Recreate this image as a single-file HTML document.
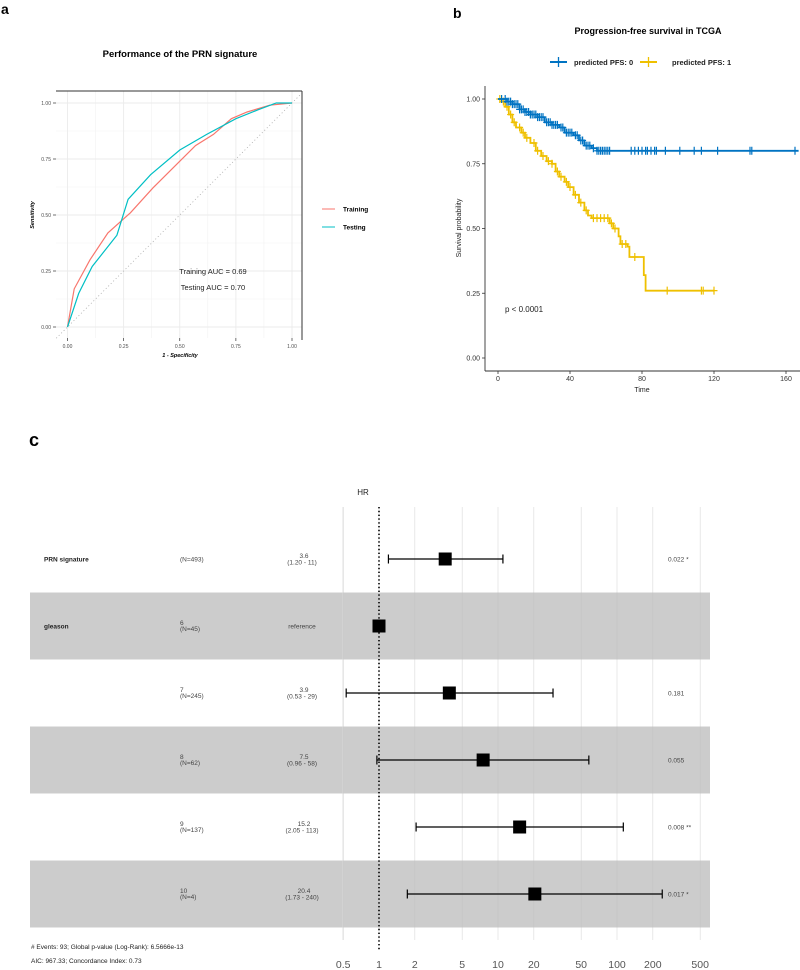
<!DOCTYPE html>
<html><head><meta charset="utf-8">
<style>
body{margin:0;background:#fff;}
svg{display:block;font-family:"Liberation Sans",sans-serif;}
</style></head>
<body>
<svg id="fig" width="800" height="970" viewBox="0 0 800 970">
<rect width="800" height="970" fill="#fff"/>
<text x="1" y="14" font-size="14" font-weight="bold">a</text>
<text x="453" y="18" font-size="14" font-weight="bold">b</text>
<text x="29" y="446" font-size="18" font-weight="bold">c</text>
<g id="roc"></g>
<g id="km"></g>
<g id="forest"></g>
</svg>
<script>
// ROC data
const rocTrainX=[0,0.03,0.1,0.18,0.28,0.38,0.5,0.57,0.65,0.73,0.8,0.9,1];
const rocTrainY=[0,0.17,0.3,0.42,0.51,0.62,0.74,0.81,0.86,0.93,0.96,0.99,1];
const rocTestX=[0,0.05,0.11,0.22,0.27,0.37,0.5,0.62,0.75,0.85,0.93,1];
const rocTestY=[0,0.15,0.27,0.41,0.57,0.68,0.79,0.86,0.93,0.97,1.0,1];
const rocTicks=[0,0.25,0.5,0.75,1];
const rocTickLabels=["0.00","0.25","0.50","0.75","1.00"];
// KM data
const kmBlueT=[0,3,5,8,12,15,18,22,26,30,34,37,42,45,48,52,55,167];
const kmBlueS=[1,1,0.99,0.98,0.96,0.95,0.94,0.93,0.91,0.90,0.89,0.87,0.86,0.84,0.82,0.81,0.80,0.80];
const kmBlueCens=[2,4,5,6,7,8,9,10,11,12,13,14,15,16,17,18,19,20,21,22,23,24,25,27,28,29,30,31,32,33,35,36,38,39,40,41,43,44,46,47,49,50,51,53,55,56,57,58,59,60,61,62,74,76,78,80,82,83,85,87,88,93,101,109,113,122,140,141,165];
const kmYelT=[0,2,4,6,8,10,13,15,18,21,24,27,30,32,34,37,39,42,45,48,50,52,62,64,67,68,72,73,81,82,120];
const kmYelS=[1,0.99,0.97,0.94,0.91,0.89,0.87,0.85,0.83,0.80,0.78,0.76,0.75,0.72,0.70,0.68,0.66,0.63,0.60,0.57,0.55,0.54,0.52,0.50,0.47,0.44,0.43,0.39,0.32,0.26,0.26];
const kmYelCens=[1,3,5,7,9,12,14,16,20,22,25,28,30,33,35,38,40,43,46,49,53,55,57,59,61,63,65,69,71,76,94,113,114,120];
const kmXTicks=[0,40,80,120,160];
const kmYTicks=[0,0.25,0.5,0.75,1];
const kmYTickLabels=["0.00","0.25","0.50","0.75","1.00"];
// Forest data
const fNames=["PRN signature","gleason","","","",""];
const fLevels=["","6","7","8","9","10"];
const fN=["(N=493)","(N=45)","(N=245)","(N=62)","(N=137)","(N=4)"];
const fHR=[3.6,1,3.9,7.5,15.2,20.4];
const fLo=[1.20,null,0.53,0.96,2.05,1.73];
const fHi=[11,null,29,58,113,240];
const fHRText=["3.6","reference","3.9","7.5","15.2","20.4"];
const fCIText=["(1.20 - 11)","","(0.53 - 29)","(0.96 - 58)","(2.05 - 113)","(1.73 - 240)"];
const fP=["0.022 *","","0.181","0.055","0.008 **","0.017 *"];
const fTicks=[0.5,1,2,5,10,20,50,100,200,500];
const fTickLabels=["0.5","1","2","5","10","20","50","100","200","500"];

const NS="http://www.w3.org/2000/svg";
function mk(parent,tag,attrs,text){const e=document.createElementNS(NS,tag);for(const k in attrs)e.setAttribute(k,attrs[k]);if(text!==undefined)e.textContent=text;parent.appendChild(e);return e;}

// ---------- ROC ----------
(function(){
const g=document.getElementById('roc');
const X=v=>67.5+224.5*v, Y=v=>327-224*v;
let t=mk(g,'text',{x:180,y:57,'font-size':9.5,'font-weight':'bold','text-anchor':'middle'},'Performance of the PRN signature');

[0.125,0.375,0.625,0.875].forEach(v=>{mk(g,'line',{x1:X(v),x2:X(v),y1:91,y2:338,stroke:'#f2f2f2','stroke-width':0.6});mk(g,'line',{x1:56,x2:302,y1:Y(v),y2:Y(v),stroke:'#f2f2f2','stroke-width':0.6});});
rocTicks.forEach((v,i)=>{
 let l=mk(g,'line',{x1:X(v),x2:X(v),y1:91,y2:338,stroke:'#ebebeb','stroke-width':0.9});
 
 mk(g,'line',{x1:56,x2:302,y1:Y(v),y2:Y(v),stroke:'#ebebeb','stroke-width':0.9});
 mk(g,'line',{x1:X(v),x2:X(v),y1:338,y2:341,stroke:'#333','stroke-width':0.7});
 mk(g,'line',{x1:53,x2:56,y1:Y(v),y2:Y(v),stroke:'#333','stroke-width':0.7});
 let a=mk(g,'text',{x:X(v),y:348,'font-size':5,fill:'#4d4d4d','text-anchor':'middle'},rocTickLabels[i]);
 
 let b=mk(g,'text',{x:51,y:Y(v)+2,'font-size':5,fill:'#4d4d4d','text-anchor':'end'},rocTickLabels[i]);
 
});
mk(g,'line',{x1:X(-0.05),y1:Y(-0.05),x2:X(1.05),y2:Y(1.05),stroke:'#aaa','stroke-width':0.8,'stroke-dasharray':'1,2.5'});
mk(g,'line',{x1:56,x2:302,y1:91,y2:91,stroke:'#333','stroke-width':1});
mk(g,'line',{x1:302,x2:302,y1:91,y2:340,stroke:'#333','stroke-width':1});
function path(xs,ys){return xs.map((x,i)=>(i?'L':'M')+X(x).toFixed(1)+','+Y(ys[i]).toFixed(1)).join('');}
let p1=mk(g,'path',{d:path(rocTrainX,rocTrainY),fill:'none',stroke:'#F8766D','stroke-width':1.2});

let p2=mk(g,'path',{d:path(rocTestX,rocTestY),fill:'none',stroke:'#00BFC4','stroke-width':1.2});

let t1=mk(g,'text',{x:213,y:274,'font-size':7.5,'text-anchor':'middle',fill:'#222'},'Training AUC = 0.69');

let t2=mk(g,'text',{x:213,y:290,'font-size':7.5,'text-anchor':'middle',fill:'#222'},'Testing AUC = 0.70');

let xt=mk(g,'text',{x:180,y:357,'font-size':5.5,'font-weight':'bold','font-style':'italic','text-anchor':'middle'},'1 - Specificity');

let yt=mk(g,'text',{x:0,y:0,'font-size':5.5,'font-weight':'bold','font-style':'italic','text-anchor':'middle',transform:'translate(34,215) rotate(-90)'},'Sensitivity');

[['Training','#F8766D',209],['Testing','#00BFC4',227]].forEach(e=>{
 let lg=mk(g,'g',{});
 mk(lg,'line',{x1:322,x2:335,y1:e[2],y2:e[2],stroke:e[1],'stroke-width':1});
 mk(lg,'text',{x:343,y:e[2]+2.5,'font-size':6.5,'font-weight':'bold'},e[0]);
});
})();

// ---------- KM ----------
(function(){
const g=document.getElementById('km');
const X=v=>498+1.8*v, Y=v=>358-259*v;
let t=mk(g,'text',{x:648,y:34,'font-size':9,'font-weight':'bold','text-anchor':'middle'},'Progression-free survival in TCGA');

[['predicted PFS: 0','#0073C2',550,574],['predicted PFS: 1','#EFC000',640,672]].forEach(e=>{
 let lg=mk(g,'g',{});
 mk(lg,'line',{x1:e[2],x2:e[2]+17,y1:62,y2:62,stroke:e[1],'stroke-width':2});
 mk(lg,'line',{x1:e[2]+8.5,x2:e[2]+8.5,y1:57,y2:67,stroke:e[1],'stroke-width':1.3});
 mk(lg,'text',{x:e[3],y:65,'font-size':7.5,'font-weight':'bold',fill:'#222'},e[0]);
});
mk(g,'line',{x1:485,x2:485,y1:86,y2:371,stroke:'#333','stroke-width':0.9});
mk(g,'line',{x1:485,x2:800,y1:371,y2:371,stroke:'#333','stroke-width':0.9});
kmXTicks.forEach(v=>{
 mk(g,'line',{x1:X(v),x2:X(v),y1:371,y2:374,stroke:'#333','stroke-width':0.8});
 let a=mk(g,'text',{x:X(v),y:381,'font-size':7,fill:'#333','text-anchor':'middle'},String(v));
 
});
kmYTicks.forEach((v,i)=>{
 mk(g,'line',{x1:482,x2:485,y1:Y(v),y2:Y(v),stroke:'#333','stroke-width':0.8});
 let a=mk(g,'text',{x:480,y:Y(v)+2.5,'font-size':7,fill:'#333','text-anchor':'end'},kmYTickLabels[i]);
 
});
let xt=mk(g,'text',{x:642,y:392,'font-size':7,'text-anchor':'middle',fill:'#222'},'Time');

let yt=mk(g,'text',{x:0,y:0,'font-size':7,'text-anchor':'middle',fill:'#222',transform:'translate(461,228) rotate(-90)'},'Survival probability');

function step(ts,ss){let d='M'+X(ts[0])+','+Y(ss[0]);for(let i=1;i<ts.length;i++){d+='H'+X(ts[i]).toFixed(1)+'V'+Y(ss[i]).toFixed(1);}return d;}
function survAt(ts,ss,t){let s=ss[0];for(let i=0;i<ts.length;i++){if(ts[i]<=t)s=ss[i];}return s;}
function curve(ts,ss,cens,col,name){
 let p=mk(g,'path',{d:step(ts,ss),fill:'none',stroke:col,'stroke-width':1.8});
 
 cens.forEach(c=>{const y=Y(survAt(ts,ss,c));
  let m=mk(g,'path',{d:`M${X(c)-3.5},${y}H${X(c)+3.5}M${X(c)},${y-4}V${y+4}`,stroke:col,'stroke-width':1.2});
  });
}
curve(kmYelT,kmYelS,kmYelCens,'#EFC000','km-pfs1');
curve(kmBlueT,kmBlueS,kmBlueCens,'#0073C2','km-pfs0');
let pv=mk(g,'text',{x:505,y:312,'font-size':8,fill:'#222'},'p < 0.0001');

})();

// ---------- Forest ----------
(function(){
const g=document.getElementById('forest');
const X=v=>379+119*Math.log10(v);
const rowY=i=>559+67*i;
fHR.forEach((v,i)=>{if(i%2===1){let r=mk(g,'rect',{x:30,y:rowY(i)-33.5,width:680,height:67,fill:'#cccccc'});}});
mk(g,'line',{x1:343,x2:343,y1:507,y2:940,stroke:'#e0e0e0','stroke-width':0.8});
fTicks.forEach((v,i)=>{
 let l=mk(g,'line',{x1:X(v),x2:X(v),y1:507,y2:940,stroke:'#bbb','stroke-width':0.6,opacity:0.55});
 
 let a=mk(g,'text',{x:X(v),y:968,'font-size':10.5,fill:'#555','text-anchor':'middle'},fTickLabels[i]);
 
});
let ref=mk(g,'line',{x1:X(1),x2:X(1),y1:507,y2:950,stroke:'#000','stroke-width':1.6,'stroke-dasharray':'1.4,2.4'});

let hr=mk(g,'text',{x:363,y:495,'font-size':8,fill:'#222','text-anchor':'middle'},'HR');

fHR.forEach((v,i)=>{
 const y=rowY(i);
 if(fNames[i]){let n=mk(g,'text',{x:44,y:y+2.5,'font-size':6.5,'font-weight':'bold',fill:'#222'},fNames[i]);}
 if(fLevels[i]){mk(g,'text',{x:180,y:y-1,'font-size':6.5,fill:'#444'},fLevels[i]);}
 let nn=mk(g,'text',{x:180,y:fLevels[i]?y+5:y+2.5,'font-size':6.5,fill:'#444'},fN[i]);
 
 if(fCIText[i]){
  mk(g,'text',{x:304,y:y-1,'font-size':6.5,fill:'#444','text-anchor':'middle'},fHRText[i]);
  let c=mk(g,'text',{x:302,y:y+5.5,'font-size':6.5,fill:'#444','text-anchor':'middle'},fCIText[i]);
  
  let w=mk(g,'path',{d:`M${X(fLo[i])},${y}H${X(fHi[i])}M${X(fLo[i])},${y-4.5}V${y+4.5}M${X(fHi[i])},${y-4.5}V${y+4.5}`,stroke:'#000','stroke-width':1.2});
  
 } else {mk(g,'text',{x:302,y:y+2.5,'font-size':6.5,fill:'#444','text-anchor':'middle'},fHRText[i]);}
 let s=mk(g,'rect',{x:X(v)-6.5,y:y-6.5,width:13,height:13,fill:'#000'});
 
 if(fP[i]){let p=mk(g,'text',{x:668,y:y+2.5,'font-size':6.5,fill:'#444'},fP[i]);}
});
let f1=mk(g,'text',{x:31,y:949,'font-size':6.5,fill:'#222'},'# Events: 93; Global p-value (Log-Rank): 6.5666e-13');

let f2=mk(g,'text',{x:31,y:963,'font-size':6.5,fill:'#222'},'AIC: 967.33; Concordance Index: 0.73');

})();
</script>
</body></html>
